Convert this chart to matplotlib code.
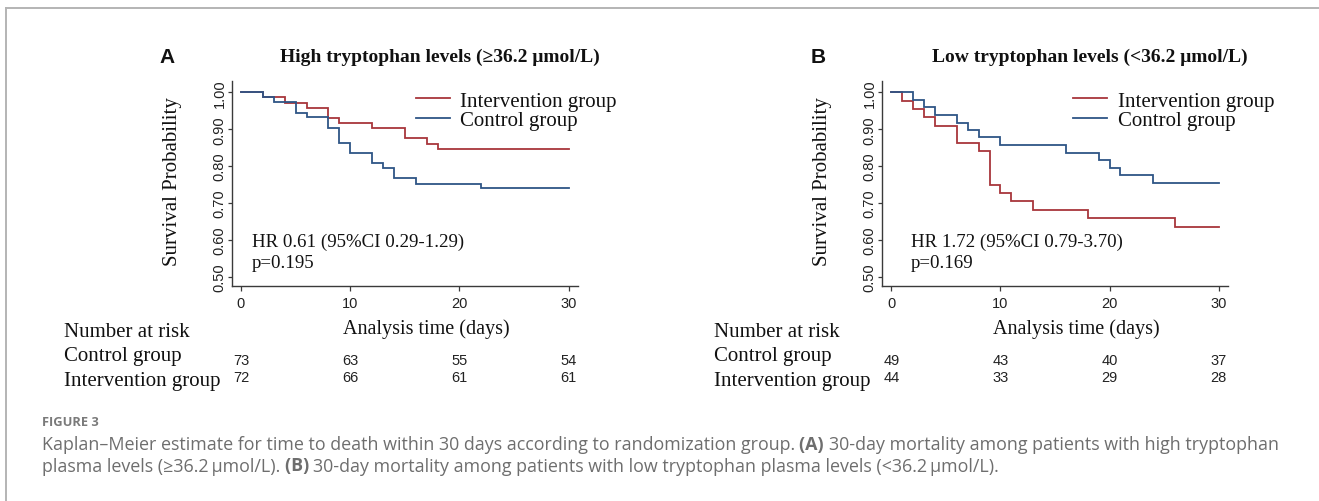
import matplotlib
matplotlib.use('Agg')
import matplotlib.pyplot as plt
from matplotlib import transforms
from matplotlib.lines import Line2D

# ---------------- data ----------------
panel_letters = ['A', 'B']
titles = ['High tryptophan levels (\u226536.2 \u03bcmol/L)',
          'Low tryptophan levels (<36.2 \u03bcmol/L)']
hr_texts = ['HR 0.61 (95%CI 0.29-1.29)', 'HR 1.72 (95%CI 0.79-3.70)']
p_texts = ['p=0.195', 'p=0.169']
group_labels = ['Intervention group', 'Control group']

# Panel A (high tryptophan)
A_int_t = [0, 2, 4, 6, 8, 9, 12, 15, 17, 18, 30]
A_int_s = [1.0, 0.986, 0.972, 0.958, 0.931, 0.917, 0.903, 0.875, 0.861, 0.847, 0.847]
A_ctl_t = [0, 2, 3, 5, 6, 8, 9, 10, 12, 13, 14, 16, 22, 30]
A_ctl_s = [1.0, 0.986, 0.973, 0.945, 0.932, 0.904, 0.863, 0.836, 0.808, 0.795, 0.767, 0.753, 0.740, 0.740]

# Panel B (low tryptophan)
B_int_t = [0, 1, 2, 3, 4, 6, 8, 9, 10, 11, 13, 18, 26, 30]
B_int_s = [1.0, 0.977, 0.955, 0.932, 0.909, 0.864, 0.841, 0.750, 0.727, 0.705, 0.682, 0.659, 0.636, 0.636]
B_ctl_t = [0, 2, 3, 4, 6, 7, 8, 10, 16, 19, 20, 21, 24, 30]
B_ctl_s = [1.0, 0.980, 0.959, 0.939, 0.918, 0.898, 0.878, 0.857, 0.837, 0.816, 0.796, 0.776, 0.755, 0.755]

risk_times = [0, 10, 20, 30]
A_risk_ctl = [73, 63, 55, 54]
A_risk_int = [72, 66, 61, 61]
B_risk_ctl = [49, 43, 40, 37]
B_risk_int = [44, 33, 29, 28]

x_ticks = [0, 10, 20, 30]
y_ticks = [0.50, 0.60, 0.70, 0.80, 0.90, 1.00]

caption_head = 'FIGURE 3'
caption_lines = [
    [('Kaplan\u2013Meier estimate for time to death within 30 days according to randomization group. ', 'normal'),
     ('(A) ', 'bold'),
     ('30-day mortality among patients with high tryptophan', 'normal')],
    [('plasma levels (\u226536.2\u2009\u03bcmol/L). ', 'normal'),
     ('(B) ', 'bold'),
     ('30-day mortality among patients with low tryptophan plasma levels (<36.2\u2009\u03bcmol/L).', 'normal')],
]

# ---------------- style ----------------
W, H = 1319, 502
SERIF = ['Liberation Serif', 'DejaVu Serif']
SANS = ['Liberation Sans', 'DejaVu Sans']
CAP = ['Open Sans', 'DejaVu Sans']
RED = '#a8363c'
BLUE = '#2e5586'
SPINE = '#3a3a3a'
CAPCOL = '#6e6e6e'

fig = plt.figure(figsize=(W / 100, H / 100), dpi=100)


def fx(px):
    return px / W


def fy(py):
    return 1 - py / H


panels = [
    dict(left=231.7, right=578.0, curves=[(A_int_t, A_int_s, RED), (A_ctl_t, A_ctl_s, BLUE)],
         risk=(A_risk_ctl, A_risk_int), letter_x=166.7, table_x=64, hr_x=0.058, leg_x=0.531),
    dict(left=882.0, right=1228.0, curves=[(B_int_t, B_int_s, RED), (B_ctl_t, B_ctl_s, BLUE)],
         risk=(B_risk_ctl, B_risk_int), letter_x=818.0, table_x=714, hr_x=0.084, leg_x=0.552),
]
top_px, bot_px = 81.7, 287.0

for i, p in enumerate(panels):
    ax = fig.add_axes([fx(p['left']), fy(bot_px), (p['right'] - p['left']) / W, (bot_px - top_px) / H])
    handles = []
    for (t, s, c), lab in zip(p['curves'], group_labels):
        h, = ax.step(t, s, where='post', color=c, lw=1.3, label=lab, solid_joinstyle='miter')
        handles.append(h)
    ax.set_xlim(-0.85, 30.85)
    ax.set_ylim(0.4756, 1.0314)
    for side in ['top', 'right']:
        ax.spines[side].set_visible(False)
    for side in ['left', 'bottom']:
        ax.spines[side].set_color(SPINE)
        ax.spines[side].set_linewidth(1.0)
    ax.set_xticks(x_ticks)
    ax.set_yticks(y_ticks)
    ax.set_yticklabels(['%.2f' % v for v in y_ticks], rotation=90, va='center')
    ax.tick_params(axis='x', length=3.6, width=0.9, color=SPINE, pad=3.5, labelsize=10.5, labelcolor='#222222')
    ax.tick_params(axis='y', length=3.0, width=0.9, color=SPINE, pad=0.8, labelsize=10.5, labelcolor='#222222')
    for lab in ax.get_xticklabels() + ax.get_yticklabels():
        lab.set_family(SANS)

    ax.set_ylabel('Survival Probability', family=SERIF, fontsize=15, color='#111111')
    ax.yaxis.set_label_coords(-0.1435, 0.515)
    ax.set_xlabel('Analysis time (days)', family=SERIF, fontsize=14.5, color='#111111')
    ax.xaxis.set_label_coords(0.561, -0.157)

    ax.text(0.6, (bot_px - 61.7) / (bot_px - top_px), titles[i], transform=ax.transAxes,
            ha='center', va='baseline', family=SERIF, fontweight='bold', fontsize=14, color='#111111')
    fig.text(fx(p['letter_x']), fy(63.3), panel_letters[i], ha='center', va='baseline',
             family=SANS, fontweight='bold', fontsize=15, color='#111111')

    ax.text(p['hr_x'], (bot_px - 247.3) / (bot_px - top_px), hr_texts[i], transform=ax.transAxes,
            ha='left', va='baseline', family=SERIF, fontsize=13.6, color='#111111')
    ax.text(p['hr_x'], (bot_px - 268.3) / (bot_px - top_px), p_texts[i], transform=ax.transAxes,
            ha='left', va='baseline', family=SERIF, fontsize=13.6, color='#111111')

    leg = ax.legend(handles=handles, loc='center left',
                    bbox_to_anchor=(p['leg_x'], (bot_px - 111.5) / (bot_px - top_px)),
                    frameon=False, prop=dict(family=SERIF, size=15), handlelength=1.65,
                    handletextpad=0.5, labelspacing=0.0, borderpad=0, borderaxespad=0)
    for txt in leg.get_texts():
        txt.set_color('#111111')

    # number at risk table
    tr = transforms.blended_transform_factory(ax.transData, fig.transFigure)
    fig.text(fx(p['table_x']), fy(337.0), 'Number at risk', family=SERIF, fontsize=15,
             ha='left', va='baseline', color='#111111')
    fig.text(fx(p['table_x']), fy(361.5), 'Control group', family=SERIF, fontsize=15,
             ha='left', va='baseline', color='#111111')
    fig.text(fx(p['table_x']), fy(386.0), 'Intervention group', family=SERIF, fontsize=15,
             ha='left', va='baseline', color='#111111')
    ctl, itv = p['risk']
    for t, n in zip(risk_times, ctl):
        ax.text(t, fy(364.8), str(n), transform=tr, ha='center', va='baseline',
                family=SANS, fontsize=10.5, color='#222222')
    for t, n in zip(risk_times, itv):
        ax.text(t, fy(382.4), str(n), transform=tr, ha='center', va='baseline',
                family=SANS, fontsize=10.5, color='#222222')

# ---------------- border ----------------
fig.add_artist(Line2D([fx(6), fx(W)], [fy(9), fy(9)], transform=fig.transFigure,
                      color='#b4b4b4', lw=1.4))
fig.add_artist(Line2D([fx(6), fx(6)], [fy(9), fy(H)], transform=fig.transFigure,
                      color='#b4b4b4', lw=1.4))

# ---------------- caption ----------------
renderer = fig.canvas.get_renderer()


def text_width(s, size, weight):
    t = fig.text(0, 0, s + '|', family=CAP, fontsize=size, fontweight=weight)
    bar = fig.text(0, 0, '|', family=CAP, fontsize=size, fontweight=weight)
    w = t.get_window_extent(renderer).width - bar.get_window_extent(renderer).width
    t.remove()
    bar.remove()
    return w


base = 11.0
w1 = sum(text_width(s, base, wt) for s, wt in caption_lines[0])
cap_size = base * 1240.0 / w1

baselines = [450.0, 471.5]
for runs, yb in zip(caption_lines, baselines):
    x = 41.7
    for s, wt in runs:
        fig.text(fx(x), fy(yb), s, family=CAP, fontsize=cap_size, fontweight=wt,
                 ha='left', va='baseline', color=CAPCOL)
        x += text_width(s, cap_size, wt)

fig.text(fx(41.7), fy(425.7), caption_head, family=CAP, fontsize=9.3, fontweight='bold',
         ha='left', va='baseline', color='#7a7a7a')

fig.savefig('out.png', dpi=100)
